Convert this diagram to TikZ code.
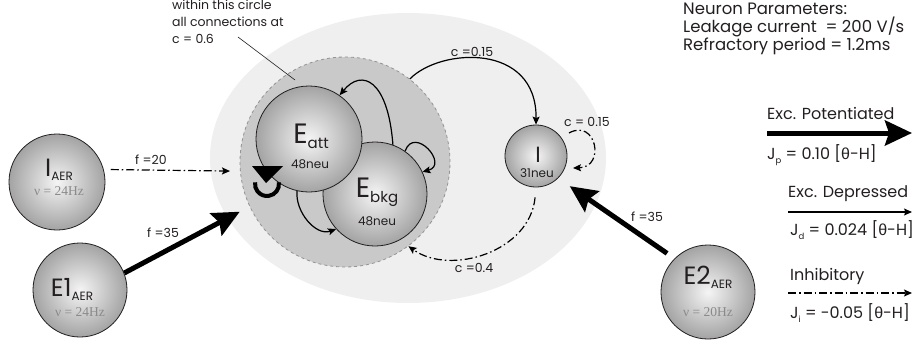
\documentclass[tikz,border=0pt]{standalone}
\usepackage{fontspec}
\setmainfont{Poppins}
\newfontfamily\nufont{Liberation Serif}
\newfontfamily\grkfont{Liberation Sans}
\usetikzlibrary{shapes.geometric,arrows.meta,calc}

\definecolor{fieldcol}{HTML}{EFEFF0}
\definecolor{corecol}{HTML}{C9C9C9}
\definecolor{inkcol}{HTML}{231F20}
\definecolor{nucol}{HTML}{8A8A8A}

\newcommand{\thetaH}{[{\grkfont θ}-H]}
\newcommand{\lsub}[1]{\raisebox{-3.5pt}{\fontsize{8.5}{8.5}\selectfont #1}}

\tikzset{
  pop/.style={circle, draw=inkcol, line width=0.8pt, inner sep=0pt,
              shading=radial, inner color=gray!8, outer color=gray!72},
  txt/.style={text=inkcol, inner sep=0pt},
  lbl/.style={txt, font=\fontsize{12.5}{14}\selectfont},
  sizetxt/.style={txt, font=\fontsize{12}{14}\selectfont},
  ratetxt/.style={txt, text=nucol, font=\nufont\fontsize{13.5}{14}\selectfont},
  legtxt/.style={txt, font=\fontsize{16}{18}\selectfont, anchor=west},
  potent/.style={line width=5pt, draw=black,
                 -{Stealth[length=27pt,width=25pt,inset=4pt]}},
  depress/.style={line width=1.2pt, draw=black,
                 -{Stealth[length=8pt,width=7pt,inset=1.5pt]}},
  inhib/.style={line width=1.2pt, draw=black,
                dash pattern=on 8pt off 3pt on 1.5pt off 3pt,
                -{Stealth[length=8pt,width=7pt,inset=1.5pt]}},
}

\begin{document}
\begin{tikzpicture}[x=1pt,y=1pt]
\useasboundingbox (0,0) rectangle (912,-340);

% background regions
\node[ellipse, fill=fieldcol, minimum width=396pt, minimum height=290pt, inner sep=0pt] (field) at (408,-158) {};
\node[circle, fill=corecol, draw=gray!85, dashed, line width=0.8pt, minimum size=210pt, inner sep=0pt] (core) at (345,-162) {};

% populations
\node[pop, minimum size=104pt] (Ebkg) at (375,-194) {};
\node[pop, minimum size=106pt] (Eatt) at (309,-139) {};
\node[pop, minimum size=62pt] (I) at (536,-156) {};
\node[pop, minimum size=96pt] (IAER) at (57,-182) {};
\node[pop, minimum size=94pt] (EoneAER) at (80,-290) {};
\node[pop, minimum size=94pt] (EtwoAER) at (708,-292) {};

% population names
\node[txt, font=\fontsize{28}{28}\selectfont] (attname) at (311,-136) {E\raisebox{-5pt}{\fontsize{15}{15}\selectfont att}};
\node[sizetxt] (attsize) at (310,-164) {48neu};
\node[txt, font=\fontsize{28}{28}\selectfont] (bkgname) at (377,-192) {E\raisebox{-5pt}{\fontsize{15}{15}\selectfont bkg}};
\node[sizetxt] (bkgsize) at (377,-221) {48neu};
\node[txt, font=\fontsize{22}{22}\selectfont] (iname) at (538,-155) {I};
\node[sizetxt] (isize) at (537,-173) {31neu};

\node[txt, font=\fontsize{25}{25}\selectfont] (iaername) at (59,-170) {I\raisebox{-4pt}{\fontsize{12}{12}\selectfont AER}};
\node[ratetxt] (iaerrate) at (59,-191) {ν = 24Hz};
\node[txt, font=\fontsize{25}{25}\selectfont] (e1name) at (72,-289) {E1\raisebox{-4pt}{\fontsize{12}{12}\selectfont AER}};
\node[ratetxt] (e1rate) at (80,-312) {ν = 24Hz};
\node[txt, font=\fontsize{25}{25}\selectfont] (e2name) at (708,-277) {E2\raisebox{-4pt}{\fontsize{12}{12}\selectfont AER}};
\node[ratetxt] (e2rate) at (708,-312) {ν = 20Hz};

% annotation of the inner circle
\node[txt, anchor=north west, align=left, font=\fontsize{12.5}{17}\selectfont] (note) at (172,0)
  {within this circle\\all connections at\\c = 0.6};
\coordinate (leadA) at (238,-37);
\coordinate (leadB) at (295,-80);
\draw[line width=0.6pt, inkcol] (leadA) -- (leadB);

% recurrent connections inside the core
\draw[depress] (Ebkg.70) .. controls (388,-80) and (362,-68) .. (Eatt.55);
\draw[depress] (Ebkg.55) to[out=70, in=15, looseness=2.6] (Ebkg.25);
\draw[depress] (Eatt.257) to[out=265, in=200] (Ebkg.222);
% strong self-excitation of E_att
\coordinate (loopc) at (267,-184);
\draw[line width=4pt, black] ($(loopc)+(8:12)$) arc (8:-188:12);
\fill[black] (252,-166) -- (283,-166) -- (266,-183) -- cycle;

% core <-> I
\draw[depress] (core.52) .. controls (440,-48) and (537,-42) .. (I.north);
\node[lbl] (c015a) at (472,-52) {c =0.15};
\draw[inhib, shorten <=10pt] (I.south) .. controls (530,-252) and (450,-276) .. (core.-53);
\node[lbl] (c04) at (474,-268) {c =0.4};
\draw[inhib] ($(I.center)+(33,23)$) .. controls (596,-118) and (606,-167) .. ($(I.center)+(37,-12)$);
\node[lbl] (c015b) at (587,-122) {c = 0.15};

% external inputs
\draw[inhib, shorten <=7pt, shorten >=10pt] (IAER.15) -- (core.185);
\node[lbl] (f20) at (151,-160) {f =20};
\draw[potent, shorten >=11pt] (EoneAER.21) -- (core.205);
\node[lbl] (f35a) at (163,-233) {f =35};
\draw[potent, shorten <=9pt, shorten >=14pt] (EtwoAER.135) -- (I.-45);
\node[lbl] (f35b) at (647,-217) {f =35};

% legend
\node[txt, anchor=north west, align=left, font=\fontsize{16.5}{18}\selectfont] (params) at (683,-3)
  {Neuron Parameters:\\Leakage current \ = 200 V/s\\Refractory period = 1.2ms};

\node[legtxt] (lpot) at (767,-113) {Exc. Potentiated};
\coordinate (lpA) at (767,-133);
\coordinate (lpB) at (912,-133);
\draw[potent] (lpA) -- (lpB);
\node[legtxt] (jp) at (767,-155) {J\lsub{p} = 0.10 \thetaH};

\node[legtxt] (ldep) at (788,-194) {Exc. Depressed};
\coordinate (ldA) at (788,-212);
\coordinate (ldB) at (912,-212);
\draw[depress] (ldA) -- (ldB);
\node[legtxt] (jd) at (790,-230) {J\lsub{d} = 0.024 \thetaH};

\node[legtxt] (linh) at (790,-276) {Inhibitory};
\coordinate (liA) at (788,-293);
\coordinate (liB) at (912,-293);
\draw[inhib] (liA) -- (liB);
\node[legtxt] (ji) at (790,-313) {J\lsub{i} = -0.05 \thetaH};
\end{tikzpicture}
\end{document}
